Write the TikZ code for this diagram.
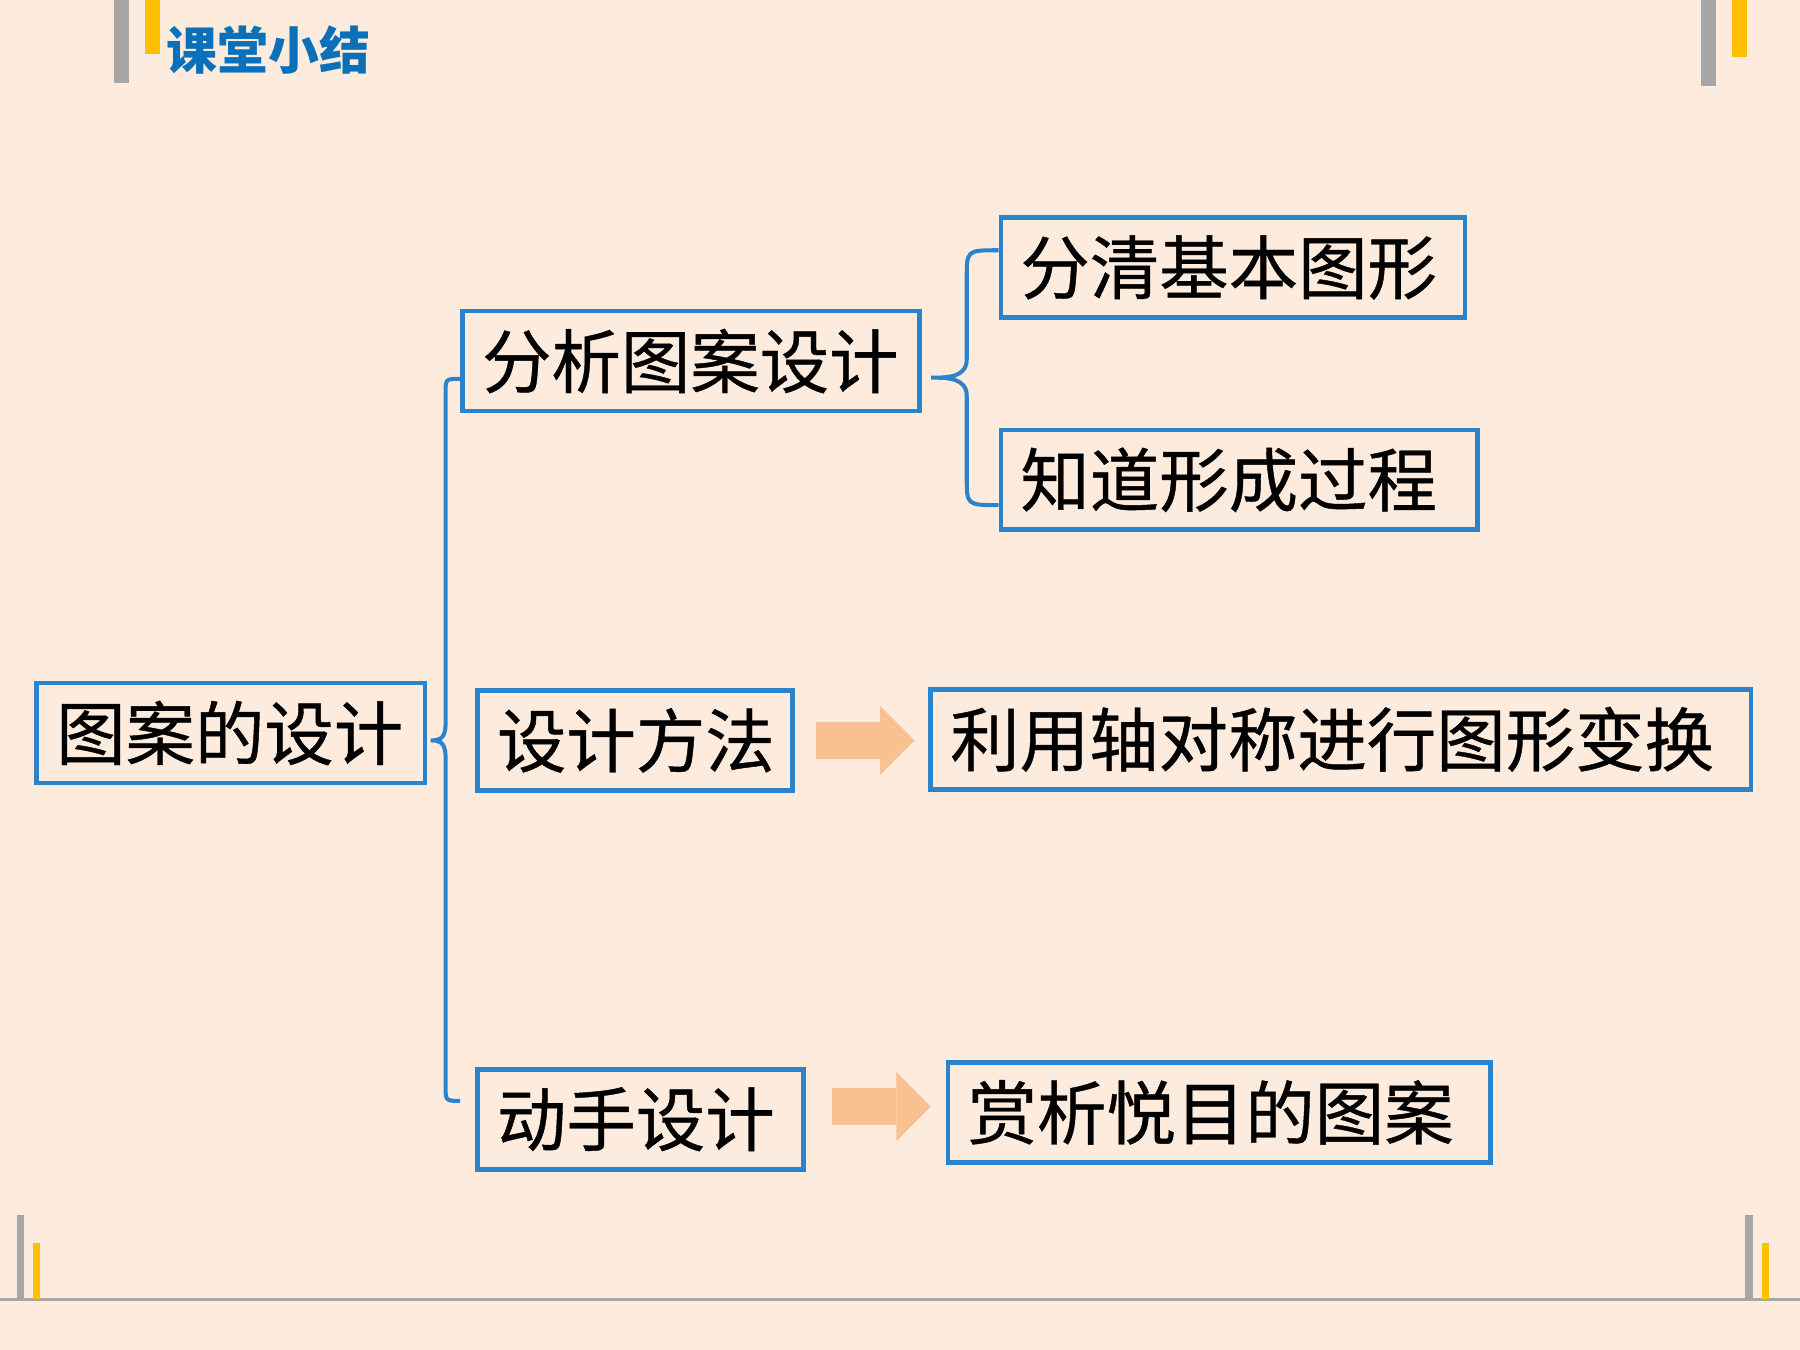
\documentclass[tikz,border=0pt]{standalone}
\usepackage{fontspec}
\setmainfont{Noto Sans CJK SC}
\newfontfamily\boxcjk{Noto Sans CJK SC}[FakeBold=0.6]
\usetikzlibrary{arrows.meta,calc}

\definecolor{pagebg}{RGB}{253,235,221}
\definecolor{boxblue}{RGB}{42,131,203}
\definecolor{titleblue}{RGB}{10,112,186}
\definecolor{arrowc}{RGB}{249,193,144}
\definecolor{bargray}{RGB}{166,166,166}
\definecolor{baryellow}{RGB}{255,192,0}

\tikzset{
  box/.style={draw=boxblue, line width=1.15pt, minimum height=0.87cm,
    inner ysep=0pt, inner xsep=0.17cm, text width=#1-0.34cm, align=left,
    font=\boxcjk\fontsize{17.2}{20}\selectfont},
  brace/.style={draw=boxblue, line width=1pt},
  fatarrow/.style={draw=arrowc, line width=0.32cm,
    -{Triangle[length=0.30cm, width=0.60cm, line width=0pt]}}
}

\begin{document}
\begin{tikzpicture}[x=0.01cm, y=-0.01cm]
  \fill[pagebg] (0,0) rectangle (1568,1176);
  \useasboundingbox (0,0) rectangle (1568,1176);
  % corner marks
  \fill[bargray] (99,0) rectangle (112,72);
  \fill[baryellow] (126,0) rectangle (139,47);
  \fill[bargray] (1482,0) rectangle (1495,75);
  \fill[baryellow] (1509,0) rectangle (1522,50);
  \draw[bargray, line width=0.6pt] (0,1132) -- (1568,1132);
  \fill[bargray] (15,1058) rectangle (21,1132);
  \fill[baryellow] (29,1083) rectangle (35,1132);
  \fill[bargray] (1520,1058) rectangle (1527,1132);
  \fill[baryellow] (1535,1083) rectangle (1541,1132);
    \node[inner sep=0pt, text=titleblue, font=\fontsize{12.6}{15}\selectfont\bfseries] (title) at (234,44) {课堂小结};

    \node[box=3.38cm] (whole) at (201,638.5) {图案的设计};
    \node[box=3.98cm] (ana) at (602,314.5) {分析图案设计};
    \node[box=4.04cm] (basic) at (1074,233) {分清基本图形};
    \node[box=4.15cm] (process) at (1079.5,418) {知道形成过程};
    \node[box=2.74cm] (method) at (553,645) {设计方法};
    \node[box=7.14cm] (axis) at (1168,644) {利用轴对称进行图形变换};
    \node[box=2.84cm] (hands) at (558,975) {动手设计};
    \node[box=4.72cm] (enjoy) at (1062,969) {赏析悦目的图案};

  % big brace
  \coordinate (bt) at ($(whole.east)+(3,6.5)$);
  \coordinate (b1) at ($(ana.west)+(0,15.5)$);
  \coordinate (b2) at ($(hands.west)+(-13,-16)$);
  \draw[brace] (b1) .. controls ($(bt |- b1)+(13,0)$) .. ($(bt |- b1)+(13,13)$)
    -- ($(bt)+(13,-14)$)
    .. controls ($(bt)+(13,0)$) and ($(bt)+(6,0)$) .. (bt)
    .. controls ($(bt)+(6,0)$) and ($(bt)+(13,0)$) .. ($(bt)+(13,14)$)
    -- ($(bt |- b2)+(13,-13)$)
    .. controls ($(bt |- b2)+(13,0)$) .. (b2);
  % small brace
  \coordinate (st) at ($(ana.east)+(8,14.5)$);
  \coordinate (s1) at ($(basic.west)+(0,-15)$);
  \coordinate (s2) at ($(process.west)+(0,22)$);
  \draw[brace] (s1) .. controls ($(st |- s1)+(31,0)$) .. ($(st |- s1)+(31,24)$)
    -- ($(st)+(31,-16)$)
    .. controls ($(st)+(31,0)$) and ($(st)+(14,0)$) .. (st)
    .. controls ($(st)+(14,0)$) and ($(st)+(31,0)$) .. ($(st)+(31,16)$)
    -- ($(st |- s2)+(31,-24)$)
    .. controls ($(st |- s2)+(31,0)$) .. (s2);

  \draw[fatarrow] ([xshift=0.19cm]method.east) -- ([xshift=-0.12cm]method.east -| axis.west);
  \draw[fatarrow] ([shift={(0.23cm,0.11cm)}]hands.east) -- ([shift={(-0.13cm,0.11cm)}]hands.east -| enjoy.west);
\end{tikzpicture}
\end{document}
